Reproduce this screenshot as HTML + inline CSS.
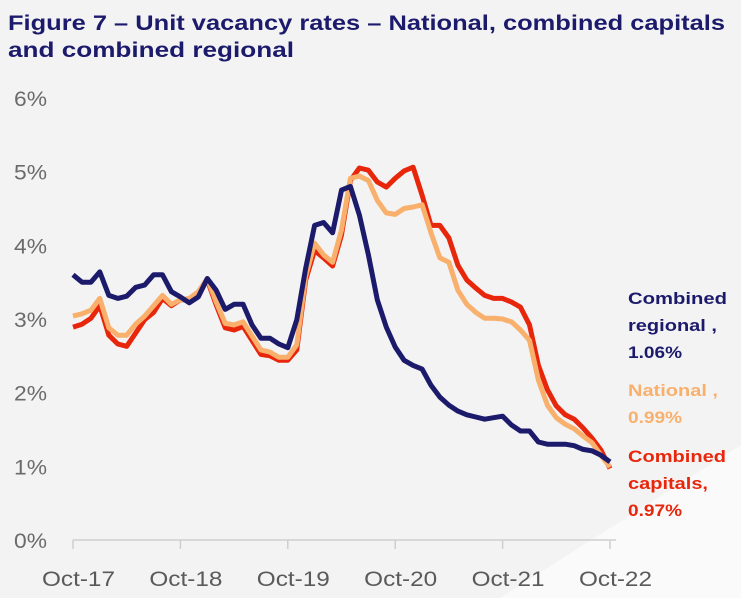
<!DOCTYPE html>
<html><head><meta charset="utf-8">
<style>
html,body{margin:0;padding:0;}
body{width:741px;height:598px;overflow:hidden;background:#f3f3f4;font-family:"Liberation Sans",sans-serif;position:relative;}
svg{position:absolute;left:0;top:0;}
</style></head>
<body>
<svg width="741" height="598">
  <polygon points="500,598 741,445 741,598" fill="#fafafa"/>
  <g font-weight="bold" font-size="21px" fill="#1c1a6b" font-family="Liberation Sans, sans-serif">
    <text x="8" y="30" textLength="717" lengthAdjust="spacingAndGlyphs">Figure 7 – Unit vacancy rates – National, combined capitals</text>
    <text x="8" y="57" textLength="286" lengthAdjust="spacingAndGlyphs">and combined regional</text>
  </g>
  <g id="axes"></g>
  <g id="lines"></g>
  <g id="labels" font-weight="bold" font-size="17px" font-family="Liberation Sans, sans-serif">
    <text x="628" y="304" textLength="99" lengthAdjust="spacingAndGlyphs" fill="#1c1a6b">Combined</text>
    <text x="628" y="331" textLength="89" lengthAdjust="spacingAndGlyphs" fill="#1c1a6b">regional ,</text>
    <text x="628" y="358" textLength="54" lengthAdjust="spacingAndGlyphs" fill="#1c1a6b">1.06%</text>
    <text x="628" y="396" textLength="90" lengthAdjust="spacingAndGlyphs" fill="#f8b06c">National ,</text>
    <text x="628" y="423" textLength="54" lengthAdjust="spacingAndGlyphs" fill="#f8b06c">0.99%</text>
    <text x="628" y="462" textLength="98" lengthAdjust="spacingAndGlyphs" fill="#e8260b">Combined</text>
    <text x="628" y="489" textLength="80" lengthAdjust="spacingAndGlyphs" fill="#e8260b">capitals,</text>
    <text x="628" y="516" textLength="54" lengthAdjust="spacingAndGlyphs" fill="#e8260b">0.97%</text>
  </g>
</svg>
<script>
const yTicks = [0,1,2,3,4,5,6];
const yTickLabels = ["0%","1%","2%","3%","4%","5%","6%"];
const xTickLabels = ["Oct-17","Oct-18","Oct-19","Oct-20","Oct-21","Oct-22"];
const xTickMonths = [0,12,24,36,48,60];
const regional = [3.60,3.50,3.50,3.64,3.32,3.28,3.31,3.43,3.46,3.60,3.60,3.37,3.30,3.22,3.30,3.55,3.39,3.13,3.20,3.20,2.92,2.74,2.74,2.66,2.61,2.99,3.69,4.27,4.31,4.17,4.75,4.80,4.41,3.87,3.26,2.89,2.62,2.44,2.37,2.32,2.10,1.94,1.83,1.75,1.70,1.67,1.64,1.66,1.68,1.56,1.48,1.48,1.33,1.30,1.30,1.30,1.28,1.23,1.21,1.15,1.06];
const capitals = [2.89,2.93,3.01,3.18,2.78,2.66,2.63,2.81,2.99,3.09,3.28,3.18,3.26,3.26,3.35,3.53,3.19,2.88,2.85,2.90,2.71,2.52,2.50,2.44,2.44,2.58,3.53,3.93,3.83,3.72,4.14,4.88,5.05,5.02,4.86,4.79,4.91,5.01,5.06,4.68,4.27,4.27,4.10,3.73,3.53,3.42,3.32,3.28,3.28,3.23,3.16,2.92,2.37,2.04,1.82,1.70,1.64,1.52,1.38,1.22,0.97];
const national = [3.04,3.07,3.12,3.28,2.88,2.78,2.78,2.93,3.04,3.18,3.32,3.20,3.26,3.28,3.37,3.55,3.23,2.94,2.92,2.96,2.77,2.58,2.55,2.48,2.48,2.65,3.58,4.03,3.87,3.77,4.21,4.91,4.94,4.88,4.61,4.44,4.42,4.50,4.52,4.55,4.17,3.83,3.77,3.39,3.20,3.09,3.01,3.01,3.00,2.96,2.85,2.71,2.17,1.83,1.66,1.57,1.51,1.41,1.32,1.15,0.99];

const NS="http://www.w3.org/2000/svg";
const x0=73, x1=610, y0=540, y6=98;
function xs(i){return x0+(x1-x0)*i/60;}
function ys(v){return y0-(y0-y6)*v/6;}
const axes=document.getElementById('axes');
const lines=document.getElementById('lines');

yTicks.forEach((t,k)=>{
  const tx=document.createElementNS(NS,'text');
  tx.setAttribute('x',14);tx.setAttribute('y',ys(t)+8);
  tx.setAttribute('font-size','21px');tx.setAttribute('fill','#6b6b6b');
  tx.setAttribute('font-family','Liberation Sans, sans-serif');
  tx.setAttribute('textLength','33');tx.setAttribute('lengthAdjust','spacingAndGlyphs');
  tx.textContent=yTickLabels[k];
  
  
  axes.appendChild(tx);
});
const ax=document.createElementNS(NS,'line');
ax.setAttribute('x1',x0);ax.setAttribute('x2',616);ax.setAttribute('y1',y0);ax.setAttribute('y2',y0);
ax.setAttribute('stroke','#cfcfcf');ax.setAttribute('stroke-width','1.5');


axes.appendChild(ax);
xTickMonths.forEach((m,k)=>{
  const tk=document.createElementNS(NS,'line');
  tk.setAttribute('x1',xs(m));tk.setAttribute('x2',xs(m));tk.setAttribute('y1',y0);tk.setAttribute('y2',y0+9);
  tk.setAttribute('stroke','#cfcfcf');tk.setAttribute('stroke-width','1.5');
  
  
  axes.appendChild(tk);
  const tx=document.createElementNS(NS,'text');
  tx.setAttribute('x',xs(m)-31);tx.setAttribute('y',586);
  tx.setAttribute('font-size','21px');tx.setAttribute('fill','#5a5a5a');
  tx.setAttribute('font-family','Liberation Sans, sans-serif');
  tx.setAttribute('textLength','73');tx.setAttribute('lengthAdjust','spacingAndGlyphs');
  tx.textContent=xTickLabels[k];
  
  
  axes.appendChild(tx);
});
function drawLine(arr,color,name){
  const p=document.createElementNS(NS,'polyline');
  p.setAttribute('points',arr.map((v,i)=>xs(i).toFixed(1)+','+ys(v).toFixed(1)).join(' '));
  p.setAttribute('fill','none');p.setAttribute('stroke',color);p.setAttribute('stroke-width','5');
  p.setAttribute('stroke-linejoin','round');
  
  
  lines.appendChild(p);
}
drawLine(capitals,'#e8260b','series-combined-capitals');
drawLine(national,'#f8b06c','series-national');
drawLine(regional,'#1c1a6b','series-combined-regional');
</script>
</body></html>
